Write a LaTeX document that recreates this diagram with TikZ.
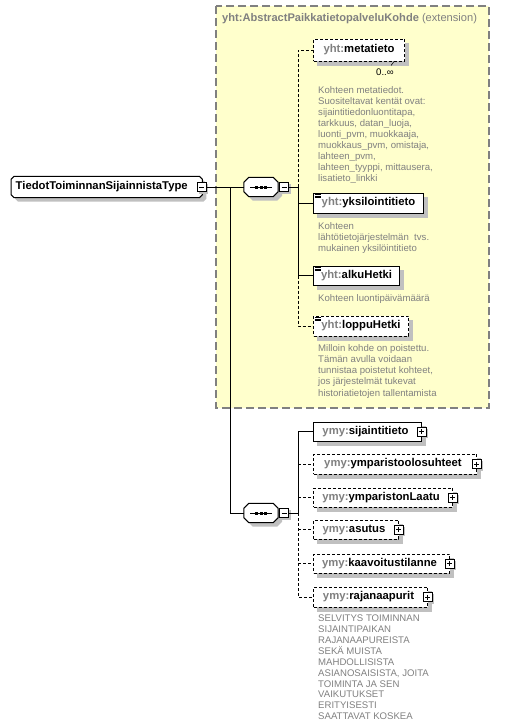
\documentclass[tikz,border=0pt]{standalone}
\usepackage{fontspec}
\setmainfont{Liberation Sans}
\definecolor{yfill}{RGB}{255,255,204}
\definecolor{boxgray}{RGB}{128,128,128}
\definecolor{shgray}{RGB}{192,192,192}
\definecolor{pfx}{RGB}{128,128,128}
\definecolor{desc}{RGB}{128,128,128}
\pgfdeclarelayer{back}
\pgfdeclarelayer{shapes}
\pgfsetlayers{back,shapes,main}
% octagon round node #1, chamfer #2, offset #3
\newcommand\octpath[3]{([xshift=#2+#3,yshift=-#3]#1.north west) -- ([xshift=-#2+#3,yshift=-#3]#1.north east) -- ([xshift=#3,yshift=-#2-#3]#1.north east) -- ([xshift=#3,yshift=#2-#3]#1.south east) -- ([xshift=-#2+#3,yshift=-#3]#1.south east) -- ([xshift=#2+#3,yshift=-#3]#1.south west) -- ([xshift=#3,yshift=#2-#3]#1.south west) -- ([xshift=#3,yshift=-#2-#3]#1.north west) -- cycle}
\begin{document}
\begin{tikzpicture}[x=1pt,y=-1pt,line width=0.9pt,
  elem/.style={draw, fill=white, anchor=west, minimum height=20pt, inner sep=0pt, line width=1pt,
    font=\fontsize{11.3}{13}\selectfont\bfseries},
  optelem/.style={elem, dash pattern=on 3pt off 2pt},
  pluselem/.style={execute at end node={\hspace*{4pt}}},
  dsh/.style={dash pattern=on 3pt off 2pt},
  minusbox/.style={draw, solid, fill=white, minimum size=9pt, inner sep=0pt, line width=0.7pt,
    path picture={\draw[line width=0.7pt] ([xshift=2pt]path picture bounding box.west) -- ([xshift=-2pt]path picture bounding box.east);}},
  plusbox/.style={draw, solid, fill=white, minimum size=9pt, inner sep=0pt, line width=0.7pt,
    path picture={\draw[line width=0.7pt] ([xshift=2pt]path picture bounding box.west) -- ([xshift=-2pt]path picture bounding box.east);
      \draw[line width=0.7pt] ([yshift=-2pt]path picture bounding box.north) -- ([yshift=2pt]path picture bounding box.south);}},
  seqbox/.style={rectangle, minimum width=34pt, minimum height=19pt, inner sep=0pt},
  rootbox/.style={rectangle, anchor=west, minimum width=191pt, minimum height=21pt,
    inner xsep=2pt, inner ysep=0pt, font=\fontsize{11.3}{13}\selectfont\bfseries},
  shadowfill/.style={fill=shgray},
  octbody/.style={draw, fill=white, line width=1pt},
  descr/.style={anchor=north west, inner sep=0pt, align=left, text=desc, font=\fontsize{9.6}{11.1}\selectfont},
  icon/.style={line width=0.6pt, solid}
]
\useasboundingbox (0,0) rectangle (532,728);
% extension box
\begin{pgfonlayer}{back}
\draw[boxgray, line width=1.2pt, dash pattern=on 8pt off 4pt, fill=yfill] (216,6) rectangle (489,408);
\end{pgfonlayer}
\node[anchor=west, text=pfx, font=\fontsize{11.1}{13}\selectfont, inner sep=0pt] (exthead) at (222,19)
  {\textbf{yht:AbstractPaikkatietopalveluKohde} (extension)};

% root
\node[rootbox] (root) at (11,187) {TiedotToiminnanSijainnistaType\hspace*{10pt}};
\node[minusbox] (rootm) at ([xshift=-1pt]root.east) {};

% sequences
\node[seqbox] (seq1) at (261,187) {};
\node[minusbox, anchor=west] (seq1m) at ([xshift=1pt]seq1.east) {};
\node[seqbox] (seq2) at (261,513) {};
\node[minusbox, anchor=west] (seq2m) at ([xshift=1pt]seq2.east) {};

\begin{pgfonlayer}{shapes}
\fill[shadowfill] \octpath{root}{3pt}{4pt};
\draw[octbody] \octpath{root}{3pt}{0pt};
\foreach \s in {seq1,seq2} {
  \fill[shadowfill] \octpath{\s}{5pt}{4pt};
  \draw[octbody] \octpath{\s}{5pt}{0pt};
  \draw[line width=0.9pt] ([xshift=-11pt]\s.center) -- ([xshift=11pt]\s.center);
  \foreach \dx in {-4.5,0,4.5}
    \fill[black] ([xshift=\dx pt]\s.center) +(-1.5pt,-1.5pt) rectangle +(1.5pt,1.5pt);
}
\end{pgfonlayer}

% elements of the extension
\node[optelem, minimum width=91pt, minimum height=22pt] (meta) at (313,50) {{\color{pfx}yht:}metatieto};
\node[elem, minimum width=110pt] (yks) at (313,203) {{\color{pfx}yht:}yksilointitieto};
\node[elem, minimum width=86pt, minimum height=19pt] (alku) at (313,275.5) {{\color{pfx}yht:}alkuHetki};
\node[optelem, minimum width=95pt] (loppu) at (313,326) {{\color{pfx}yht:}loppuHetki};

\node[anchor=west, inner sep=0pt, font=\fontsize{9.6}{11}\selectfont] (card) at (376,72) {0..∞};
\draw[line width=0.6pt] ([shift={(-14,4)}]meta.south east) -- ([shift={(-11,0)}]meta.south east);

\foreach \n in {yks,alku,loppu}
  \foreach \dy in {1.8,3.5,5.2}
    \draw[icon] ([shift={(1.5,\dy)}]\n.north west) -- ++(6,0);

\node[descr] (dmeta) at (318,86) {Kohteen metatiedot.\\Suositeltavat kentät ovat:\\sijaintitiedonluontitapa,\\tarkkuus, datan\_luoja,\\luonti\_pvm, muokkaaja,\\muokkaus\_pvm, omistaja,\\lahteen\_pvm,\\lahteen\_tyyppi, mittausera,\\lisatieto\_linkki};
\node[descr] (dyks) at (318,222) {Kohteen\\lähtötietojärjestelmän\ \ tvs.\\mukainen yksilöintitieto};
\node[descr] (dalku) at (318,294) {Kohteen luontipäivämäärä};
\node[descr] (dloppu) at (318,344.5) {Milloin kohde on poistettu.\\Tämän avulla voidaan\\tunnistaa poistetut kohteet,\\jos järjestelmät tukevat\\historiatietojen tallentamista};

% elements of sequence 2
\node[elem, pluselem, minimum width=108pt, minimum height=19pt] (sij) at (313,431.5) {{\color{pfx}ymy:}sijaintitieto};
\node[optelem, pluselem, minimum width=163pt] (ymp) at (313,464) {{\color{pfx}ymy:}ymparistoolosuhteet};
\node[optelem, pluselem, minimum width=139pt, minimum height=19pt] (laatu) at (313,497.5) {{\color{pfx}ymy:}ymparistonLaatu};
\node[optelem, pluselem, minimum width=85pt, minimum height=19pt] (asutus) at (313,529.5) {{\color{pfx}ymy:}asutus};
\node[optelem, pluselem, minimum width=136pt, minimum height=19pt] (kaav) at (313,563.5) {{\color{pfx}ymy:}kaavoitustilanne};
\node[optelem, pluselem, minimum width=114pt] (raja) at (313,597) {{\color{pfx}ymy:}rajanaapurit};

\foreach \n in {sij,ymp,laatu,asutus,kaav,raja}
  \node[plusbox] (\n p) at ([xshift=-0.5pt]\n.east) {};

% shadows of boxes
\begin{pgfonlayer}{shapes}
\foreach \n in {meta,yks,alku,loppu,sij,ymp,laatu,asutus,kaav,raja}
  \fill[shadowfill] ([shift={(4,4)}]\n.north west) rectangle ([shift={(4,4)}]\n.south east);
\foreach \n in {rootm,seq1m,seq2m,sijp,ympp,laatup,asutusp,kaavp,rajap}
  \fill[shadowfill] ([shift={(2,2)}]\n.north west) rectangle ([shift={(2,2)}]\n.south east);
\end{pgfonlayer}

\node[descr, font=\fontsize{9.6}{10.85}\selectfont] (draja) at (318,615) {SELVITYS TOIMINNAN\\SIJAINTIPAIKAN\\RAJANAAPUREISTA\\SEKÄ MUISTA\\MAHDOLLISISTA\\ASIANOSAISISTA, JOITA\\TOIMINTA JA SEN\\VAIKUTUKSET\\ERITYISESTI\\SAATTAVAT KOSKEA};

% connectors
\coordinate (j1) at (230,187);
\coordinate (j2) at (230,513);
\coordinate (b1) at (298,187);
\coordinate (b2) at (298,513);
\draw (rootm.east) -- (seq1.west);
\draw (j1) -- (j2) -- (seq2.west);
\draw (seq1m.east) -- (b1);
\draw[dsh] (b1) |- (meta.west);
\draw (b1) |- (yks.west);
\draw (b1) |- (alku.west);
\draw[dsh] (b1 |- alku.west) |- (loppu.west);
\draw (seq2m.east) -- (b2);
\draw (b2) |- (sij.west);
\draw[dsh] (b2 |- ymp.west) -- (ymp.west);
\draw[dsh] (b2 |- laatu.west) -- (laatu.west);
\draw[dsh] (b2) |- (raja.west);
\draw[dsh] (b2 |- asutus.west) -- (asutus.west);
\draw[dsh] (b2 |- kaav.west) -- (kaav.west);
\end{tikzpicture}
\end{document}
